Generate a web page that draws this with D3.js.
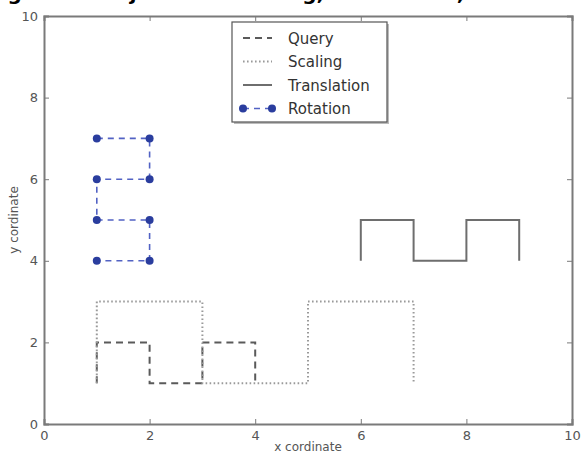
<!DOCTYPE html>
<html>
<head>
<meta charset="utf-8">
<script src="https://cdn.jsdelivr.net/npm/d3@7"></script>
<style>
  body { margin: 0; background: #fff; }
  svg { display: block; font-family: "DejaVu Sans", sans-serif; }
</style>
</head>
<body>
<div id="chart"></div>
<script>
var width = 581,
    height = 454;

var margin = {top: 16, right: 9, bottom: 30, left: 44};

// series
var queryX = [1, 1, 2, 2, 3, 3, 4, 4];
var queryY = [1, 2, 2, 1, 1, 2, 2, 1];
var scalingX = [1, 1, 3, 3, 5, 5, 7, 7];
var scalingY = [1, 3, 3, 1, 1, 3, 3, 1];
var translationX = [6, 6, 7, 7, 8, 8, 9, 9];
var translationY = [4, 5, 5, 4, 4, 5, 5, 4];
var rotationX = [1, 2, 2, 1, 1, 2, 2, 1];
var rotationY = [7, 7, 6, 6, 5, 5, 4, 4];

var xTicks = [0, 2, 4, 6, 8, 10];
var yTicks = [0, 2, 4, 6, 8, 10];
var legendNames = ["Query", "Scaling", "Translation", "Rotation"];

var zip = function(xs, ys) {
    return xs.map(function(x, i) { return [x, ys[i]]; });
};

var x = d3.scaleLinear().domain([0, 10]).range([margin.left, width - margin.right]);
var y = d3.scaleLinear().domain([0, 10]).range([height - margin.bottom, margin.top]);

var svg = d3.select("#chart").append("svg")
    .attr("width", width)
    .attr("height", height);

// caption of the source figure, cropped so only descenders show
svg.append("text")
    .attr("x", -13)
    .attr("y", -0.5)
    .attr("font-size", 20)
    .attr("font-weight", "bold")
    .attr("fill", "#000")
    .text("Figure 3. Trajectories  Scaling,  Translation,  Rotation");

var line = d3.line()
    .x(function(d) { return x(d[0]); })
    .y(function(d) { return y(d[1]); });

var series = [
    {name: "Query", pts: zip(queryX, queryY), color: "#5a5a5a", dash: "7,5", w: 2},
    {name: "Scaling", pts: zip(scalingX, scalingY), color: "#9a9a9a", dash: "1.6,2.4", w: 2},
    {name: "Translation", pts: zip(translationX, translationY), color: "#6e6e6e", dash: null, w: 2},
    {name: "Rotation", pts: zip(rotationX, rotationY), color: "#5262c4", dash: "6,5", w: 1.6, marker: "#2a3d9e"}
];

var plot = svg.append("g");

series.forEach(function(s) {
    plot.append("path")
        .datum(s.pts)
        .attr("d", line)
        .attr("fill", "none")
        .attr("stroke", s.color)
        .attr("stroke-width", s.w)
        .attr("stroke-dasharray", s.dash);
    if (s.marker) {
        plot.selectAll(".pt")
            .data(s.pts)
            .enter().append("circle")
            .attr("cx", function(d) { return x(d[0]); })
            .attr("cy", function(d) { return y(d[1]); })
            .attr("r", 4)
            .attr("fill", s.marker);
    }
});

// axes with inward ticks on all four sides
var axisColor = "#7a7a7a";
var bottom = svg.append("g")
    .attr("transform", "translate(0," + y(0) + ")")
    .call(d3.axisBottom(x).tickValues(xTicks).tickSize(-5).tickPadding(7));
var top_ = svg.append("g")
    .attr("transform", "translate(0," + y(10) + ")")
    .call(d3.axisTop(x).tickValues(xTicks).tickSize(-5).tickFormat(""));
var left = svg.append("g")
    .attr("transform", "translate(" + x(0) + ",0)")
    .call(d3.axisLeft(y).tickValues(yTicks).tickSize(-5).tickPadding(6));
var right = svg.append("g")
    .attr("transform", "translate(" + x(10) + ",0)")
    .call(d3.axisRight(y).tickValues(yTicks).tickSize(-5).tickFormat(""));

[bottom, top_, left, right].forEach(function(a) {
    a.select(".domain").attr("stroke", axisColor).attr("stroke-width", 2);
    a.selectAll(".tick line").attr("stroke", axisColor).attr("stroke-width", 1);
    a.selectAll(".tick text")
        .attr("fill", "#555")
        .attr("font-size", 13)
        .attr("font-family", "DejaVu Sans, sans-serif");
});

svg.append("text")
    .attr("x", (x(0) + x(10)) / 2)
    .attr("y", 451)
    .attr("text-anchor", "middle")
    .attr("font-size", 12)
    .attr("fill", "#555")
    .text("x cordinate");

svg.append("text")
    .attr("transform", "translate(18," + y(5) + ") rotate(-90)")
    .attr("text-anchor", "middle")
    .attr("font-size", 12)
    .attr("fill", "#555")
    .text("y cordinate");

// legend
var lg = svg.append("g").attr("transform", "translate(232,22)");
lg.append("rect")
    .attr("x", 2).attr("y", 2)
    .attr("width", 155).attr("height", 100)
    .attr("fill", "#bbb");
lg.append("rect")
    .attr("width", 155).attr("height", 100)
    .attr("fill", "#fff")
    .attr("stroke", "#555")
    .attr("stroke-width", 1.2);

var rows = lg.selectAll(".row")
    .data(series)
    .enter().append("g")
    .attr("transform", function(d, i) { return "translate(0," + (16 + i * 23.5) + ")"; });

rows.append("line")
    .attr("x1", 11).attr("x2", 40)
    .attr("stroke", function(d) { return d.color; })
    .attr("stroke-width", function(d) { return d.w; })
    .attr("stroke-dasharray", function(d) { return d.dash; });

rows.filter(function(d) { return d.marker; })
    .selectAll("circle")
    .data(function(d) { return [11, 40].map(function(v) { return {cx: v, c: d.marker}; }); })
    .enter().append("circle")
    .attr("cx", function(d) { return d.cx; })
    .attr("r", 4)
    .attr("fill", function(d) { return d.c; });

rows.append("text")
    .attr("x", 56)
    .attr("y", 5.5)
    .attr("font-size", 15)
    .attr("fill", "#333")
    .text(function(d, i) { return legendNames[i]; });
</script>
</body>
</html>
